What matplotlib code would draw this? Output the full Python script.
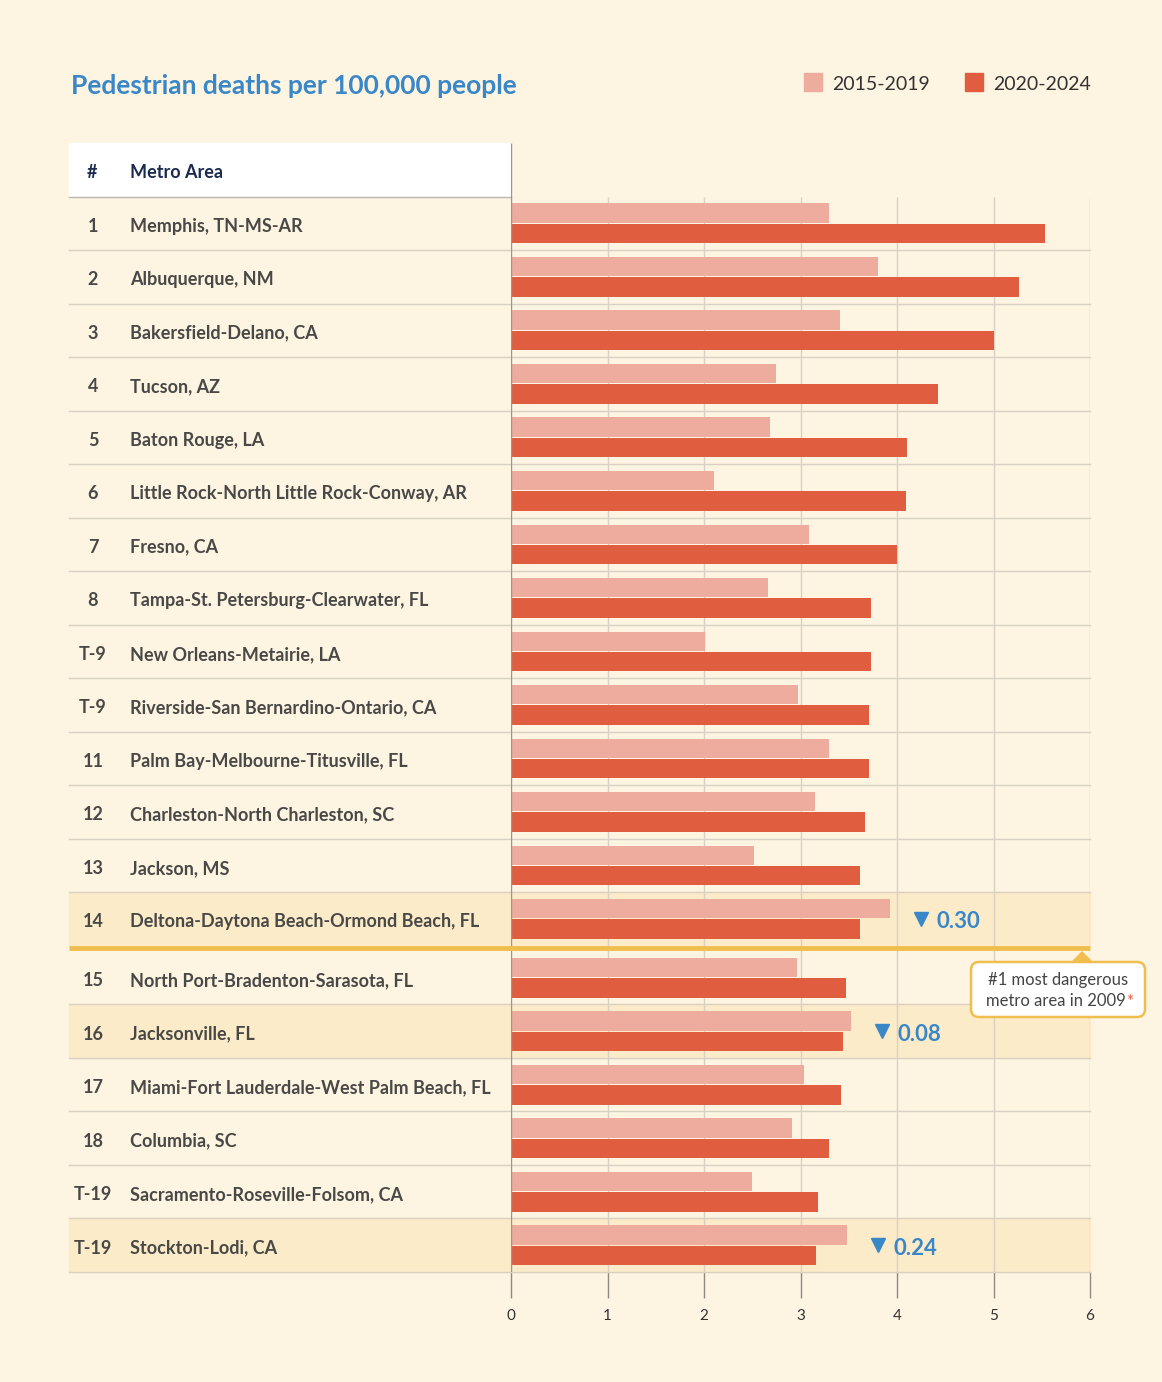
import numpy as np
import matplotlib.pyplot as plt
from matplotlib.patches import Rectangle, FancyBboxPatch, Polygon

plt.rcParams['font.family'] = ['Lato', 'DejaVu Sans']

# Data
ranks = ['1', '2', '3', '4', '5', '6', '7', '8', 'T-9', 'T-9',
         '11', '12', '13', '14', '15', '16', '17', '18', 'T-19', 'T-19']
metros = ['Memphis, TN-MS-AR', 'Albuquerque, NM', 'Bakersfield-Delano, CA',
          'Tucson, AZ', 'Baton Rouge, LA', 'Little Rock-North Little Rock-Conway, AR',
          'Fresno, CA', 'Tampa-St. Petersburg-Clearwater, FL', 'New Orleans-Metairie, LA',
          'Riverside-San Bernardino-Ontario, CA', 'Palm Bay-Melbourne-Titusville, FL',
          'Charleston-North Charleston, SC', 'Jackson, MS',
          'Deltona-Daytona Beach-Ormond Beach, FL', 'North Port-Bradenton-Sarasota, FL',
          'Jacksonville, FL', 'Miami-Fort Lauderdale-West Palm Beach, FL',
          'Columbia, SC', 'Sacramento-Roseville-Folsom, CA', 'Stockton-Lodi, CA']
deaths_2015_2019 = [3.30, 3.80, 3.41, 2.75, 2.68, 2.10, 3.09, 2.66, 2.01, 2.97,
                    3.30, 3.15, 2.52, 3.93, 2.96, 3.52, 3.04, 2.91, 2.50, 3.48]
deaths_2020_2024 = [5.53, 5.26, 5.01, 4.42, 4.10, 4.09, 4.00, 3.73, 3.73, 3.71,
                    3.71, 3.67, 3.62, 3.62, 3.47, 3.44, 3.42, 3.30, 3.18, 3.16]
highlight_rows = [13, 15, 19]
decline_labels = ['0.30', '0.08', '0.24']
xticks = [0, 1, 2, 3, 4, 5, 6]

BG = '#FDF4E2'
LIGHT = '#EDAC9D'
DARK = '#E05D40'
HIGHLIGHT = '#FBEBC8'
GOLD = '#F0BE4E'
BLUE = '#3A87C8'
GRID = '#D8D1C4'
TEXT = '#484846'
NAVY = '#1B2A4E'

n = len(metros)
idx = np.arange(n)
y = idx + np.where(idx >= 14, 0.1, 0.0)
y_bottom = y[-1] + 0.5
x_left = -442 / 579  # table left edge, axes fraction
dy = 0.055  # nudge text down to optical centre

fig = plt.figure(figsize=(11.62, 13.82), dpi=100, facecolor=BG)
ax = fig.add_axes([511 / 1162, 1 - 1272 / 1382, 579 / 1162, 1129 / 1382])
ax.set_facecolor('none')

ax.barh(y - 0.19, deaths_2015_2019, height=0.36, color=LIGHT, zorder=3)
ax.barh(y + 0.19, deaths_2020_2024, height=0.36, color=DARK, zorder=3)

ax.set_xlim(0, 6)
ax.set_ylim(y_bottom, -1.5)
for s in ax.spines.values():
    s.set_visible(False)
ax.set_yticks([])
ax.set_xticks(xticks)
ax.tick_params(axis='x', length=19, width=1, color='#8F8A82',
               labelsize=11, labelcolor='#333333', pad=8)

# grid lines and zero line
ax.vlines(xticks[1:], -0.5, y_bottom, color=GRID, lw=1, zorder=1)
ax.vlines(0, -1.5, y_bottom, color='#9A958C', lw=1, zorder=4)

ytr = ax.get_yaxis_transform()

# header
ax.add_patch(Rectangle((x_left, -1.5), -x_left, 1.0, transform=ytr,
                       color='white', zorder=0, clip_on=False))
ax.text(-0.7237, -1 + dy, '#', transform=ytr, ha='center', va='center',
        fontsize=13, fontweight='bold', color=NAVY)
ax.text(-0.658, -1 + dy, 'Metro Area', transform=ytr, ha='left', va='center',
        fontsize=13, fontweight='bold', color=NAVY)
ax.plot([x_left, 0], [-0.5, -0.5], transform=ytr, color='#BDB6AA',
        lw=1, clip_on=False, zorder=2)

# highlighted rows
for i in highlight_rows:
    ax.add_patch(Rectangle((x_left, y[i] - 0.5), 1 - x_left, 1.0, transform=ytr,
                           color=HIGHLIGHT, zorder=0, clip_on=False))

# row separators
for i in range(n):
    if i == 13:
        continue
    ax.plot([x_left, 1], [y[i] + 0.5, y[i] + 0.5], transform=ytr,
            color=GRID, lw=1, clip_on=False, zorder=2)
ax.plot([x_left, 1], [13.55, 13.55], transform=ytr, color=GOLD,
        lw=3.5, clip_on=False, zorder=5, solid_capstyle='butt')

# table text
for i in range(n):
    ax.text(-0.722, y[i] + dy, ranks[i], transform=ytr, ha='center', va='center',
            fontsize=13, fontweight='bold', color=TEXT)
    ax.text(-0.658, y[i] + dy, metros[i], transform=ytr, ha='left', va='center',
            fontsize=13, fontweight='bold', color=TEXT)

# declines
for i, lab in zip(highlight_rows, decline_labels):
    xm = max(deaths_2015_2019[i], deaths_2020_2024[i])
    ax.plot(xm + 0.32, y[i], marker='v', ms=9.5, color=BLUE, zorder=5,
            clip_on=False)
    ax.text(xm + 0.48, y[i] + dy, lab, ha='left', va='center', fontsize=16,
            fontweight='bold', color=BLUE)

# title and legend
inch = fig.dpi_scale_trans
fig.text(0.71, 12.955, 'Pedestrian deaths per 100,000 people', transform=inch,
         ha='left', va='center', fontsize=19, fontweight='bold', color=BLUE)
for x0, col, lab in [(8.04, LIGHT, '2015-2019'), (9.65, DARK, '2020-2024')]:
    fig.patches.append(Rectangle((x0, 12.91), 0.18, 0.18, transform=inch,
                                 color=col, figure=fig))
    fig.text(x0 + 0.28, 12.98, lab, transform=inch, ha='left', va='center',
             fontsize=14, color='#333333')

# annotation box
box = FancyBboxPatch((9.71, 3.65), 1.74, 0.55, transform=inch,
                     boxstyle='round,pad=0,rounding_size=0.08',
                     facecolor='white', edgecolor=GOLD, lw=1.8, figure=fig)
fig.patches.append(box)
fig.patches.append(Polygon([(10.73, 4.21), (10.91, 4.21), (10.82, 4.30)],
                           closed=True, transform=inch, color=GOLD, figure=fig))
fig.text(10.58, 4.015, '#1 most dangerous', transform=inch, ha='center',
         va='center', fontsize=12, color='#444444')
fig.text(11.26, 3.805, 'metro area in 2009', transform=inch, ha='right',
         va='center', fontsize=12, color='#444444')
fig.text(11.26, 3.805, '*', transform=inch, ha='left', va='center',
         fontsize=12, color=DARK)

fig.savefig('out.png', dpi=100, facecolor=BG)
